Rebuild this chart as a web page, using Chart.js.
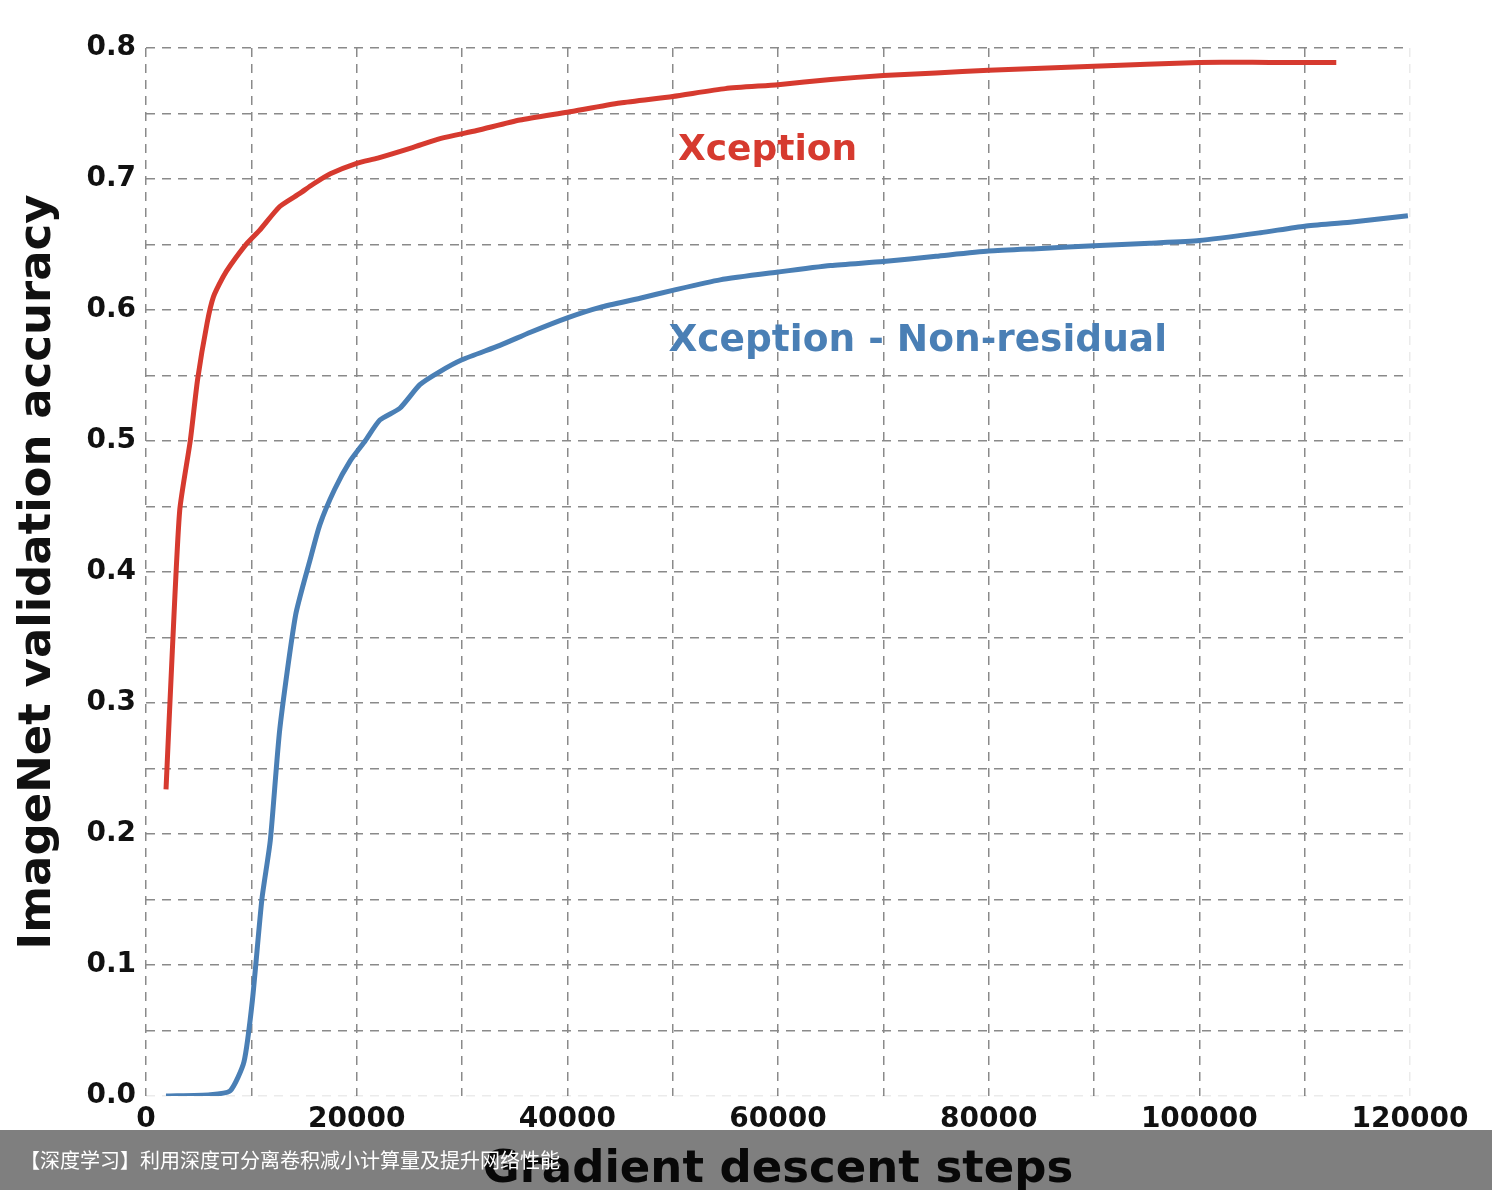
<!DOCTYPE html>
<html>
<head>
<meta charset="utf-8">
<script src="https://cdn.jsdelivr.net/npm/chart.js@4"></script>
<style>
  html, body { margin: 0; padding: 0; background: #fff; }
  #wrap { position: relative; width: 1492px; height: 1190px; overflow: hidden; }
  #banner {
    position: absolute; left: 0; top: 1130px; width: 1492px; height: 60px;
    background: rgba(0, 0, 0, 0.5);
    color: #fff; font: 20px "Noto Sans CJK SC", sans-serif;
    line-height: 60px; padding-left: 20px; box-sizing: border-box;
  }
</style>
</head>
<body>
<div id="wrap">
  <canvas id="chart" width="1492" height="1190"></canvas>
  <div id="banner">【深度学习】利用深度可分离卷积减小计算量及提升网络性能</div>
</div>
<script>
const xceptionSteps = [1900, 2500, 3200, 4200, 4900, 5800, 6400, 7300, 8000, 9600, 10800, 12700, 14600, 15850, 17500, 20000, 22000, 25300, 28000, 31400, 35500, 40000, 45000, 50000, 55000, 60000, 65000, 70000, 75000, 80000, 90000, 100000, 106700, 113000];
const xceptionAcc = [0.234, 0.34, 0.447, 0.50, 0.547, 0.59, 0.61, 0.625, 0.634, 0.651, 0.661, 0.679, 0.689, 0.696, 0.704, 0.712, 0.716, 0.724, 0.731, 0.737, 0.745, 0.751, 0.758, 0.763, 0.769, 0.772, 0.776, 0.779, 0.781, 0.783, 0.786, 0.789, 0.789, 0.789];

const nonResSteps = [1900, 6100, 8000, 9300, 10100, 11000, 11800, 12700, 14200, 15600, 16500, 17900, 19400, 20800, 22200, 24100, 26000, 27900, 30000, 33600, 36500, 40000, 43100, 46900, 50000, 54500, 60000, 65000, 70000, 75000, 80000, 85000, 90000, 95300, 100000, 105800, 110000, 114300, 119800];
const nonResAcc = [0.0, 0.001, 0.004, 0.026, 0.073, 0.15, 0.195, 0.28, 0.367, 0.41, 0.436, 0.463, 0.485, 0.50, 0.516, 0.525, 0.543, 0.553, 0.562, 0.573, 0.583, 0.594, 0.602, 0.609, 0.615, 0.623, 0.629, 0.634, 0.637, 0.641, 0.645, 0.647, 0.649, 0.651, 0.653, 0.659, 0.664, 0.667, 0.672];

const xTickLabels = ["0", "20000", "40000", "60000", "80000", "100000", "120000"];
const yTickLabels = ["0.0", "0.1", "0.2", "0.3", "0.4", "0.5", "0.6", "0.7", "0.8"];
const seriesNames = ["Xception", "Xception - Non-residual"];

const FONT = "'DejaVu Sans', sans-serif";
const RED = "#d63a2f";
const BLUE = "#4a7fb5";
const toPoints = (xs, ys) => xs.map((x, i) => ({ x: x, y: ys[i] }));

// in-plot labels, anchored in data units (left edge, vertical middle)
const labelSpots = [
  { x: 50500, y: 0.722, size: 36, color: RED },
  { x: 49600, y: 0.576, size: 37.5, color: BLUE }
];

const labelPlugin = {
  id: "seriesLabels",
  afterDatasetsDraw(chart) {
    const { ctx, scales: { x, y } } = chart;
    ctx.save();
    ctx.textAlign = "left";
    ctx.textBaseline = "middle";
    seriesNames.forEach((name, i) => {
      const s = labelSpots[i];
      ctx.font = "bold " + s.size + "px " + FONT;
      ctx.fillStyle = s.color;
      ctx.fillText(name, x.getPixelForValue(s.x), y.getPixelForValue(s.y));
    });
    ctx.restore();
  }
};

const gridColor = (edgeValue) => (c) =>
  (c.tick && c.tick.value === edgeValue) ? "rgba(0,0,0,0.08)" : "#8a8a8a";

const tickFont = { family: FONT, size: 28, weight: "bold" };
const titleFont = { family: FONT, size: 45, weight: "bold", lineHeight: 1 };

new Chart(document.getElementById("chart"), {
  type: "line",
  data: {
    datasets: [
      {
        label: seriesNames[0],
        data: toPoints(xceptionSteps, xceptionAcc),
        borderColor: RED,
        borderWidth: 5,
        pointRadius: 0,
        tension: 0.2
      },
      {
        label: seriesNames[1],
        data: toPoints(nonResSteps, nonResAcc),
        borderColor: BLUE,
        borderWidth: 5,
        pointRadius: 0,
        tension: 0.2
      }
    ]
  },
  options: {
    responsive: false,
    animation: false,
    layout: { padding: { top: 48, right: 82, bottom: 0, left: 0 } },
    plugins: { legend: { display: false }, tooltip: { enabled: false } },
    scales: {
      x: {
        type: "linear",
        min: 0,
        max: 120000,
        afterFit: s => { s.height = 94; },
        border: { display: false, dash: [9, 7] },
        grid: { color: gridColor(120000), lineWidth: 1.5, drawTicks: false },
        ticks: {
          stepSize: 10000,
          padding: 7,
          maxRotation: 0,
          autoSkip: false,
          color: "#111",
          font: tickFont,
          callback: v => (v % 20000 === 0 ? xTickLabels[v / 20000] : "")
        },
        title: {
          display: true,
          text: "Gradient descent steps",
          color: "#111",
          font: titleFont,
          padding: { top: 0, bottom: -3 }
        }
      },
      y: {
        type: "linear",
        min: 0,
        max: 0.8,
        afterFit: s => { s.width = 146; },
        border: { display: false, dash: [9, 7] },
        grid: { color: gridColor(0), lineWidth: 1.5, drawTicks: false },
        ticks: {
          stepSize: 0.05,
          padding: 10,
          autoSkip: false,
          color: "#111",
          font: tickFont,
          callback: v => {
            const k = Math.round(v * 20);
            return k % 2 === 0 ? yTickLabels[k / 2] : "";
          }
        },
        title: {
          display: true,
          text: "ImageNet validation accuracy",
          color: "#111",
          font: titleFont,
          padding: { top: 16, bottom: 0 }
        }
      }
    }
  },
  plugins: [labelPlugin]
});
</script>
</body>
</html>
